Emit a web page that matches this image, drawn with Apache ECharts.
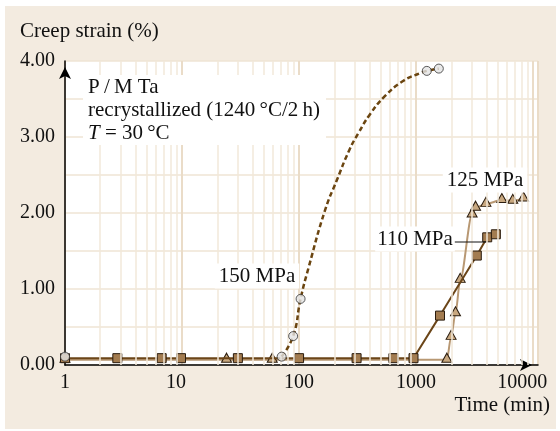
<!DOCTYPE html>
<html><head><meta charset="utf-8">
<script src="https://cdn.jsdelivr.net/npm/echarts@6/dist/echarts.min.js"></script>
<style>
html,body{margin:0;padding:0;background:#fff;}
#bg{position:absolute;left:5px;top:6px;width:551px;height:423px;background:#f3ebe0;}
#chart{position:absolute;left:0;top:0;width:560px;height:431px;}
</style></head><body>
<div id="bg"></div><div id="chart"></div>
<script>
// 110 MPa (squares)
const time110 = [1, 2.8, 6.7, 9.8, 30, 100, 310, 640, 950, 1600, 3300, 4050, 4800];
const strain110 = [0.09, 0.09, 0.09, 0.09, 0.09, 0.09, 0.09, 0.09, 0.09, 0.65, 1.44, 1.68, 1.72];
// 125 MPa (triangles)
const time125 = [1, 24, 59, 1830, 1990, 2170, 2380, 3010, 3220, 3950, 5400, 6700, 8260];
const strain125 = [0.07, 0.07, 0.07, 0.07, 0.37, 0.68, 1.12, 1.98, 2.07, 2.12, 2.17, 2.16, 2.19];
// 150 MPa (circles, measured points)
const time150 = [1, 71, 89, 103, 1234, 1563];
const strain150 = [0.11, 0.11, 0.38, 0.87, 3.87, 3.90];
// 150 MPa dashed fit curve
const curveTime150 = [71, 89, 103, 120, 167, 210, 269, 321, 404, 543, 779, 1082, 1234, 1563];
const curveStrain150 = [0.11, 0.38, 0.87, 1.27, 2.04, 2.43, 2.83, 3.05, 3.30, 3.54, 3.74, 3.84, 3.87, 3.90];
// axes
const xTicks = [1, 10, 100, 1000, 10000];
const minorGridTimes = [2,3,4,5,6,7,8,9,20,30,40,50,60,70,80,90,200,300,400,500,600,700,800,900,2000,3000,4000,5000,6000,7000,8000,9000];
const yLabels = ['0.00', '1.00', '2.00', '3.00', '4.00'];

const FONT = 'Liberation Serif';
const pairs = (xs, ys) => xs.map((x, i) => [x, ys[i]]);

const chart = echarts.init(document.getElementById('chart'), null, {renderer: 'canvas'});
chart.setOption({
  animation: false,
  backgroundColor: 'transparent',
  grid: {left: 65, right: 22, top: 61, bottom: 66, show: true, backgroundColor: '#ffffff', borderWidth: 0, containLabel: false},
  xAxis: {
    type: 'log', logBase: 10, min: 1, max: 11000,
    axisLine: {show: true, lineStyle: {color: '#000', width: 1.5}, symbol: ['none', 'arrow'], symbolSize: [9, 12], symbolOffset: [0, -6]},
    axisTick: {show: false},
    splitLine: {show: true, lineStyle: {color: '#eadcc8', width: 2}},
    axisLabel: {
      margin: 8, color: '#111', fontFamily: FONT, fontSize: 20,
      showMaxLabel: false,
      formatter: function (v) {
        const r = Math.round(v);
        if (xTicks.indexOf(r) < 0) return '';
        if (r === 10) return '{a|10}';
        if (r === 10000) return '{b|10000}';
        return String(r);
      },
      rich: {
        a: {fontFamily: FONT, fontSize: 20, color: '#111', padding: [0, 12, 0, 0]},
        b: {fontFamily: FONT, fontSize: 20, color: '#111', padding: [0, 22, 0, 0]}
      }
    }
  },
  yAxis: {
    type: 'value', min: 0, max: 4, interval: 0.5,
    axisLine: {show: true, lineStyle: {color: '#000', width: 1.5}, symbol: ['none', 'arrow'], symbolSize: [9, 12], symbolOffset: [0, -6]},
    axisTick: {show: false},
    splitLine: {show: true, lineStyle: {color: '#efe4d5', width: 1.5}},
    axisLabel: {
      margin: 10, color: '#111', fontFamily: FONT, fontSize: 20,
      formatter: function (v) { const i = Math.round(v); return Math.abs(v - i) < 1e-6 ? yLabels[i] : ''; }
    }
  },
  series: [
    {
      type: 'line', data: [], z: 1, silent: true,
      markLine: {
        silent: true, symbol: ['none', 'none'], label: {show: false}, animation: false,
        lineStyle: {color: '#f2e8da', width: 1.5, type: 'solid'},
        emphasis: {disabled: true},
        data: minorGridTimes.map(t => ({xAxis: t}))
      }
    },
    {
      name: '125 MPa', type: 'line', z: 3, data: pairs(time125, strain125),
      smooth: 0.3, smoothMonotone: 'x',
      lineStyle: {color: '#b89873', width: 2},
      symbol: 'triangle', symbolSize: [10, 9], symbolOffset: [0, -2],
      itemStyle: {color: '#c8a880', borderColor: '#2a1c0e', borderWidth: 1}
    },
    {
      name: '110 MPa', type: 'line', z: 4, data: pairs(time110, strain110),
      lineStyle: {color: '#6b4518', width: 2},
      symbol: 'rect', symbolSize: 9,
      itemStyle: {color: '#a37c50', borderColor: '#2a1c0e', borderWidth: 1}
    },
    {
      name: '150 MPa curve', type: 'line', z: 5, data: pairs(curveTime150, curveStrain150),
      smooth: 0.5, showSymbol: false, symbol: 'none',
      lineStyle: {color: '#6b4510', width: 2.5, type: [5, 3]}
    },
    {
      name: '150 MPa', type: 'scatter', z: 6, data: pairs(time150, strain150),
      symbol: 'circle', symbolSize: 9,
      itemStyle: {color: '#e3e3e3', borderColor: '#333', borderWidth: 1}
    }
  ],
  graphic: [
    {type: 'text', left: 20, top: 21, z: 10, style: {text: 'Creep strain (%)', fontFamily: FONT, fontSize: 21, fill: '#111'}},
    {type: 'text', right: 10, top: 395, z: 10, style: {text: 'Time (min)', fontFamily: FONT, fontSize: 21, fill: '#111'}},
    {type: 'rect', shape: {x: 83, y: 75, width: 243, height: 70}, z: 10, style: {fill: '#fff'}},
    {type: 'text', x: 88, y: 76, z: 11, style: {
      text: 'P\u2009/\u2009M Ta\nrecrystallized (1240\u2009°C/2\u2009h)\n{i|T} = 30\u2009°C',
      fontFamily: FONT, fontSize: 21, lineHeight: 23, fill: '#111',
      rich: {i: {fontFamily: FONT, fontSize: 21, fontStyle: 'italic', fill: '#111', lineHeight: 23}}
    }},
    {type: 'text', x: 257, y: 276, z: 10, style: {text: '150 MPa', fontFamily: FONT, fontSize: 21, fill: '#111', align: 'center', verticalAlign: 'middle', backgroundColor: '#fff', padding: [2, 4]}},
    {type: 'text', x: 485, y: 180, z: 10, style: {text: '125 MPa', fontFamily: FONT, fontSize: 21, fill: '#111', align: 'center', verticalAlign: 'middle', backgroundColor: '#fff', padding: [2, 4]}},
    {type: 'text', x: 415, y: 239, z: 10, style: {text: '110 MPa', fontFamily: FONT, fontSize: 21, fill: '#111', align: 'center', verticalAlign: 'middle', backgroundColor: '#fff', padding: [2, 2]}},
    {type: 'line', z: 9, shape: {x1: 453, y1: 242, x2: 486, y2: 242}, style: {stroke: '#111', lineWidth: 1}}
  ]
});
</script>
</body></html>
